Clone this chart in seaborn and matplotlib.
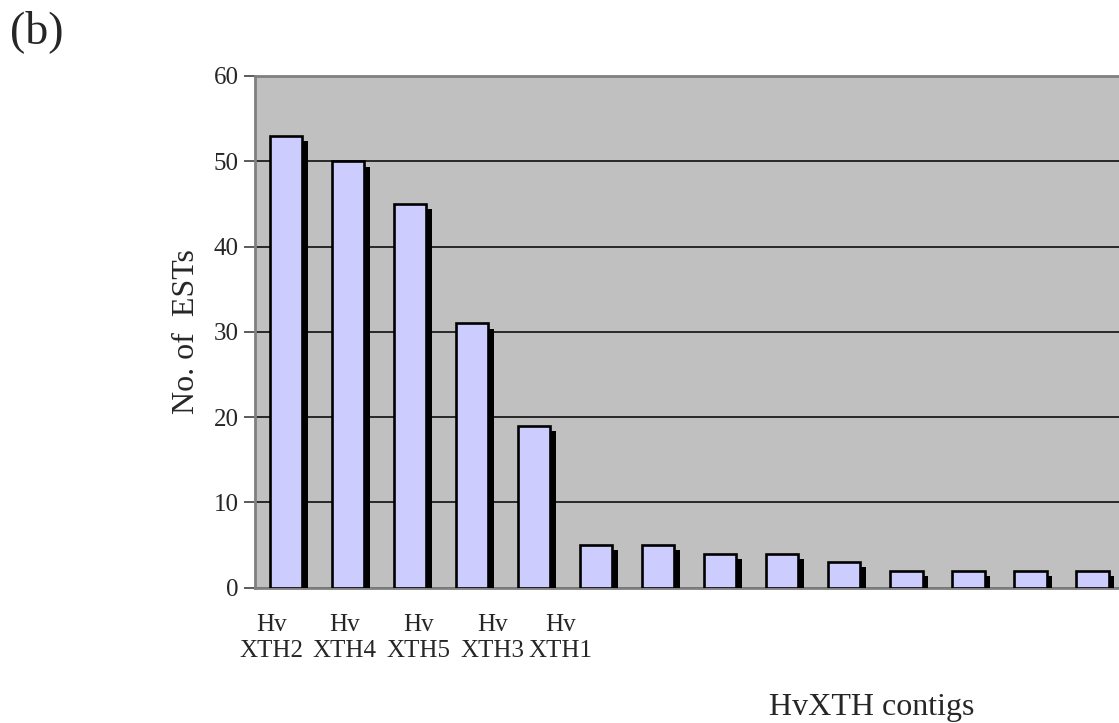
import matplotlib
matplotlib.use("Agg")
import matplotlib.pyplot as plt
import matplotlib.patheffects as pe
import pandas as pd
import seaborn as sns

# Data
contig_ids = ["c1", "c2", "c3", "c4", "c5", "c6", "c7",
              "c8", "c9", "c10", "c11", "c12", "c13", "c14"]
est_counts = [53, 50, 45, 31, 19, 5, 5, 4, 4, 3, 2, 2, 2, 2]
# only the first five contigs are named; the labels sit a bit wider apart than the bars
tick_labels = ["Hv\nXTH2", "Hv\nXTH4", "Hv\nXTH5", "Hv\nXTH3", "Hv\nXTH1"]
tick_pos = [-0.23, 0.94, 2.13, 3.32, 4.42]

df = pd.DataFrame({"contig": contig_ids, "ests": est_counts})

sns.set_style("white")
plt.rcParams["font.family"] = ["Liberation Serif", "DejaVu Serif"]

fig = plt.figure(figsize=(11.19, 7.23), dpi=100)
ax = fig.add_axes([0.228, 0.187, 0.776, 0.708])
ax.set_facecolor("#c0c0c0")

sns.barplot(x="contig", y="ests", data=df, order=contig_ids, color="#ccccff",
            saturation=1, width=0.52, edgecolor="black", linewidth=1.9, ax=ax, zorder=3)

# drop shadow behind every bar
for bar in ax.patches:
    bar.set_path_effects([
        pe.SimplePatchShadow(offset=(3.8, -3.8), shadow_rgbFace="black", alpha=1),
        pe.Normal(),
    ])

ax.set_ylim(0, 60)
ax.set_xlim(-0.5, 13.5)
ax.set_yticks(range(0, 61, 10))
ax.yaxis.grid(True, color="black", linewidth=1.1, zorder=1)
ax.set_axisbelow(True)

ax.set_xticks(tick_pos)
ax.set_xticklabels(tick_labels, fontsize=18, linespacing=1.2)
ax.tick_params(axis="x", length=0, pad=19)
ax.tick_params(axis="y", length=8, width=1.2, color="#404040", labelsize=18,
               left=True, pad=4)

for side in ["left", "bottom", "top"]:
    ax.spines[side].set_color("#808080")
    ax.spines[side].set_linewidth(2)
ax.spines["right"].set_visible(False)

ax.set_ylabel("No. of  ESTs", fontsize=23)
ax.yaxis.set_label_coords(-0.062, 0.5)
ax.set_xlabel("HvXTH contigs", fontsize=23)
ax.xaxis.set_label_coords(0.71, -0.205)

fig.text(0.009, 0.94, "(b)", fontsize=33)

plt.savefig("out.png", dpi=100)
